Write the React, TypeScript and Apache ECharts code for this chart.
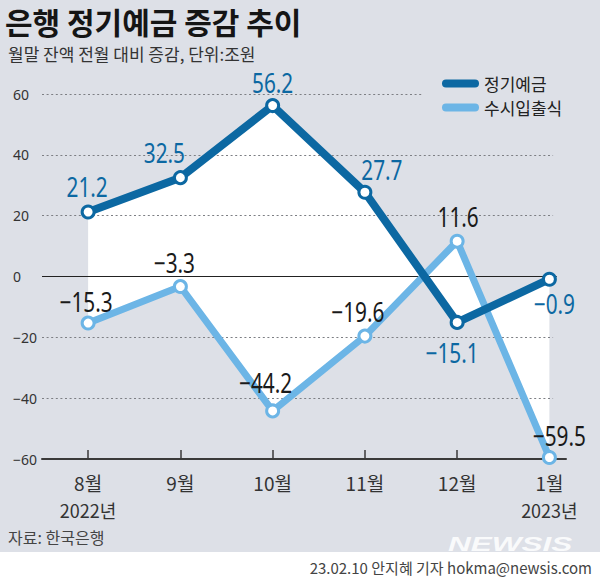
import React, { useEffect, useRef } from "react";
import * as echarts from "echarts";

const months = ["8월", "9월", "10월", "11월", "12월", "1월"];
const years = ["2022년", "", "", "", "", "2023년"];
const timeDeposits = [21.2, 32.5, 56.2, 27.7, -15.1, -0.9];
const demandDeposits = [-15.3, -3.3, -44.2, -19.6, 11.6, -59.5];
const yMin = -60;
const yMax = 60;
const yStep = 20;

// label offsets (px) relative to each point
const timeOffsets = [[-1, -26], [-16, -25], [0, -23], [17, -23], [-5, 30], [5, 24]];
const demandOffsets = [[-2, -22], [-6, -24], [-7, -29], [-7, -25], [1, -25], [10, -22]];

const DARK = "#0c68a2";
const LIGHT = "#6cb5e6";
const BG = "#dde0e7";
const NUM = "'Noto Sans CJK KR', sans-serif";
const KR = "'Noto Sans CJK KR', sans-serif";
const LABEL_FONT = "27px 'Noto Sans', sans-serif";

const fmt = (v: number) => (v < 0 ? "\u2212" + Math.abs(v) : String(v));
const ICON = "path://M4,0L33,0A4,4,0,0,1,33,8L4,8A4,4,0,0,1,4,0Z";

function labelSeries(values: number[], offsets: number[][], color: string, z: number) {
  return {
    type: "custom",
    z,
    silent: true,
    data: values.map((v, i) => [i, v]),
    renderItem: (params: any, api: any) => {
      const i = params.dataIndex;
      const v = api.value(1);
      const p = api.coord([api.value(0), v]);
      const off = offsets[i];
      return {
        type: "text",
        x: p[0] + off[0],
        y: p[1] + off[1],
        scaleX: 0.77,
        style: {
          text: fmt(v),
          fill: color,
          font: LABEL_FONT,
          align: "center",
          verticalAlign: "middle",
          textAlign: "center",
          textVerticalAlign: "middle",
        },
      };
    },
  };
}

export default function App() {
  const ref = useRef<HTMLDivElement>(null);
  useEffect(() => {
    if (!ref.current) return;
    const chart = echarts.init(ref.current, null, { renderer: "svg" });
    const idx = months.map((_, i) => i);
    const dotted = { color: "#7d7f84", width: 1, type: [2, 2.6] as any };
    const gridLines: any[] = [];
    for (let v = yMin + yStep; v <= yMax; v += yStep) {
      if (v === 0) continue;
      const end = v === yMax ? 3.63 : 5.04;
      gridLines.push([{ coord: [-0.5, v], lineStyle: dotted }, { coord: [end, v] }]);
    }
    gridLines.push([
      { coord: [-0.5, 0], lineStyle: { color: "#222", width: 1, type: "solid" } },
      { coord: [5.08, 0] },
    ]);

    const option: any = {
      animation: false,
      backgroundColor: BG,
      grid: { left: 42, right: 34, top: 94, bottom: 120 },
      legend: {
        orient: "vertical",
        left: 437,
        top: 70,
        itemWidth: 37,
        itemHeight: 8,
        itemGap: 7,
        selectedMode: false,
        textStyle: { fontSize: 17, color: "#222", fontFamily: KR },
        data: [
          { name: "정기예금", icon: ICON, itemStyle: { color: DARK, borderWidth: 0 } },
          { name: "수시입출식", icon: ICON, itemStyle: { color: LIGHT, borderWidth: 0 } },
        ],
      },
      xAxis: {
        type: "value",
        min: -0.5,
        max: 5.18,
        splitLine: { show: false },
        axisLine: { show: true, onZero: false, lineStyle: { color: "#3a3a3a", width: 2 } },
        axisTick: {
          show: true,
          inside: true,
          length: 9,
          customValues: idx,
          lineStyle: { color: "#3a3a3a", width: 1.5 },
        },
        axisLabel: {
          customValues: idx,
          formatter: (v: number) => {
            const i = Math.round(v);
            return "{m|" + months[i] + "}" + (years[i] ? "\n{y|" + years[i] + "}" : "");
          },
          margin: 8,
          rich: {
            m: { fontSize: 19, lineHeight: 30, color: "#333", fontFamily: NUM },
            y: { fontSize: 18, lineHeight: 26, color: "#333", fontFamily: NUM },
          },
        },
      },
      yAxis: {
        type: "value",
        min: yMin,
        max: yMax,
        interval: yStep,
        splitLine: { show: false },
        axisLine: { show: false },
        axisTick: { show: false },
        axisLabel: {
          formatter: (v: number) => fmt(v),
          align: "left",
          margin: 29,
          fontSize: 14,
          color: "#333",
          fontFamily: "'Noto Sans', sans-serif",
        },
      },
      graphic: [
        {
          type: "rect",
          left: 0,
          top: 552,
          shape: { width: 600, height: 27 },
          style: { fill: "#fff" },
          z: 10,
        },
        {
          type: "text",
          left: 448,
          top: 533,
          z: 5,
          scaleX: 1.5,
          style: {
            text: "NEWSIS",
            font: "italic bold 21px 'Liberation Sans', sans-serif",
            fill: "rgba(255,255,255,0.85)",
          },
        },
        {
          type: "text",
          left: 5,
          top: 6,
          z: 20,
          style: { text: "은행 정기예금 증감 추이", font: `bold 30px ${KR}`, fill: "#151515" },
        },
        {
          type: "text",
          left: 8,
          top: 45,
          z: 20,
          style: { text: "월말 잔액 전월 대비 증감, 단위:조원", font: `17px ${KR}`, fill: "#333" },
        },
        {
          type: "text",
          left: 8,
          top: 529,
          z: 20,
          style: { text: "자료: 한국은행", font: `16px ${KR}`, fill: "#444" },
        },
        {
          type: "text",
          right: 8,
          top: 560,
          z: 20,
          style: { text: "23.02.10 안지혜 기자 hokma@newsis.com", font: `15px ${NUM}`, fill: "#444" },
        },
      ],
      series: [
        {
          type: "custom",
          name: "band",
          z: 1,
          silent: true,
          data: [[0, 0]],
          renderItem: (_p: any, api: any) => {
            const top = timeDeposits.map((v, i) => api.coord([i, v]));
            const bot = demandDeposits.map((v, i) => api.coord([i, v])).reverse();
            return { type: "polygon", shape: { points: top.concat(bot) }, style: { fill: "#fff" } };
          },
        },
        {
          type: "line",
          name: "gridlines",
          data: [],
          z: 2,
          silent: true,
          markLine: { silent: true, z: 2, symbol: "none", label: { show: false }, data: gridLines },
        },
        {
          type: "line",
          name: "수시입출식",
          z: 3,
          data: demandDeposits.map((v, i) => [i, v]),
          lineStyle: { color: LIGHT, width: 7 },
          symbol: "circle",
          symbolSize: 12,
          itemStyle: { color: "#fff", borderColor: LIGHT, borderWidth: 3 },
        },
        {
          type: "line",
          name: "정기예금",
          z: 4,
          data: timeDeposits.map((v, i) => [i, v]),
          lineStyle: { color: DARK, width: 8 },
          symbol: "circle",
          symbolSize: 12,
          itemStyle: { color: "#fff", borderColor: DARK, borderWidth: 3 },
        },
        labelSeries(demandDeposits, demandOffsets, "#1a1a1a", 5),
        labelSeries(timeDeposits, timeOffsets, DARK, 5),
      ],
    };
    chart.setOption(option);
    return () => chart.dispose();
  }, []);
  return (
    <div
      ref={ref}
      style={{ position: "fixed", left: 0, top: 0, width: 600, height: 579 }}
    />
  );
}
